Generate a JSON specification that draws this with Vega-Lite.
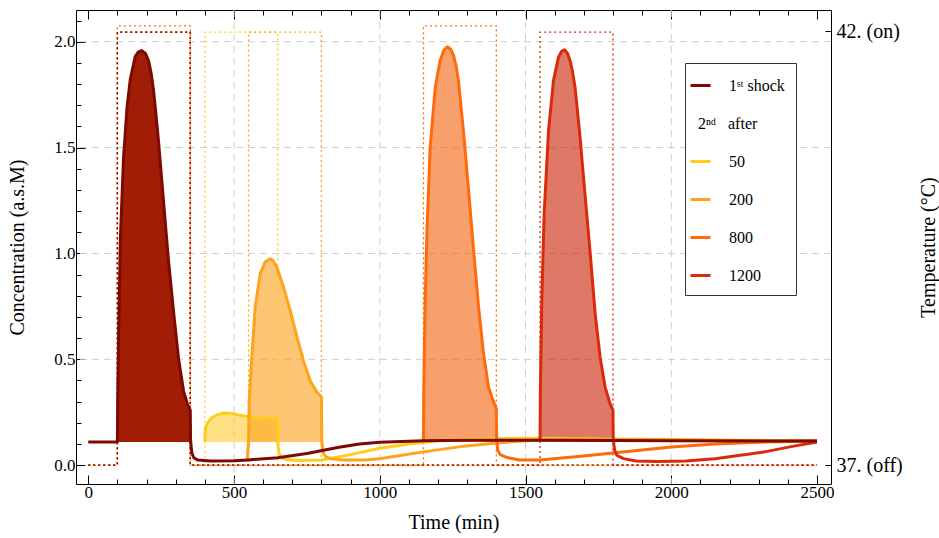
{
  "$schema": "https://vega.github.io/schema/vega-lite/v6.json",
  "width": 755,
  "height": 474,
  "autosize": {"type": "none"},
  "padding": {"left": 76, "top": 10, "right": 108, "bottom": 54},
  "background": "#ffffff",
  "config": {
    "font": "Liberation Serif",
    "view": {"stroke": "#000000", "strokeWidth": 1},
    "axis": {
      "labelFont": "Liberation Serif",
      "titleFont": "Liberation Serif",
      "labelColor": "#000000",
      "titleColor": "#000000",
      "tickColor": "#000000",
      "titleFontWeight": "normal",
      "domain": false,
      "grid": false
    }
  },
  "datasets": {
    "curves": [
      {"s": "1st shock", "t": 0, "c": 0.11, "f": 0},
      {"s": "1st shock", "t": 100, "c": 0.11, "f": 1},
      {"s": "1st shock", "t": 101, "c": 0.3, "f": 1},
      {"s": "1st shock", "t": 104, "c": 0.6, "f": 1},
      {"s": "1st shock", "t": 110, "c": 1.06, "f": 1},
      {"s": "1st shock", "t": 121, "c": 1.45, "f": 1},
      {"s": "1st shock", "t": 133, "c": 1.69, "f": 1},
      {"s": "1st shock", "t": 144, "c": 1.82, "f": 1},
      {"s": "1st shock", "t": 161, "c": 1.93, "f": 1},
      {"s": "1st shock", "t": 172, "c": 1.952, "f": 1},
      {"s": "1st shock", "t": 184, "c": 1.958, "f": 1},
      {"s": "1st shock", "t": 196, "c": 1.945, "f": 1},
      {"s": "1st shock", "t": 207, "c": 1.91, "f": 1},
      {"s": "1st shock", "t": 216, "c": 1.85, "f": 1},
      {"s": "1st shock", "t": 224, "c": 1.77, "f": 1},
      {"s": "1st shock", "t": 232, "c": 1.66, "f": 1},
      {"s": "1st shock", "t": 241, "c": 1.53, "f": 1},
      {"s": "1st shock", "t": 258, "c": 1.25, "f": 1},
      {"s": "1st shock", "t": 275, "c": 0.97, "f": 1},
      {"s": "1st shock", "t": 293, "c": 0.72, "f": 1},
      {"s": "1st shock", "t": 310, "c": 0.5, "f": 1},
      {"s": "1st shock", "t": 327, "c": 0.35, "f": 1},
      {"s": "1st shock", "t": 340, "c": 0.29, "f": 1},
      {"s": "1st shock", "t": 350, "c": 0.26, "f": 1},
      {"s": "1st shock", "t": 351, "c": 0.12, "f": 0},
      {"s": "1st shock", "t": 355, "c": 0.06, "f": 0},
      {"s": "1st shock", "t": 362, "c": 0.035, "f": 0},
      {"s": "1st shock", "t": 375, "c": 0.025, "f": 0},
      {"s": "1st shock", "t": 420, "c": 0.02, "f": 0},
      {"s": "1st shock", "t": 500, "c": 0.021, "f": 0},
      {"s": "1st shock", "t": 550, "c": 0.025, "f": 0},
      {"s": "1st shock", "t": 650, "c": 0.035, "f": 0},
      {"s": "1st shock", "t": 750, "c": 0.055, "f": 0},
      {"s": "1st shock", "t": 860, "c": 0.085, "f": 0},
      {"s": "1st shock", "t": 930, "c": 0.1, "f": 0},
      {"s": "1st shock", "t": 1000, "c": 0.108, "f": 0},
      {"s": "1st shock", "t": 1150, "c": 0.115, "f": 0},
      {"s": "1st shock", "t": 1300, "c": 0.118, "f": 0},
      {"s": "1st shock", "t": 1600, "c": 0.118, "f": 0},
      {"s": "1st shock", "t": 2000, "c": 0.116, "f": 0},
      {"s": "1st shock", "t": 2500, "c": 0.114, "f": 0},

      {"s": "50", "t": 400, "c": 0.11, "f": 1},
      {"s": "50", "t": 401, "c": 0.165, "f": 1},
      {"s": "50", "t": 405, "c": 0.185, "f": 1},
      {"s": "50", "t": 412, "c": 0.205, "f": 1},
      {"s": "50", "t": 425, "c": 0.225, "f": 1},
      {"s": "50", "t": 441, "c": 0.237, "f": 1},
      {"s": "50", "t": 460, "c": 0.245, "f": 1},
      {"s": "50", "t": 476, "c": 0.247, "f": 1},
      {"s": "50", "t": 495, "c": 0.243, "f": 1},
      {"s": "50", "t": 515, "c": 0.237, "f": 1},
      {"s": "50", "t": 550, "c": 0.229, "f": 1},
      {"s": "50", "t": 600, "c": 0.222, "f": 1},
      {"s": "50", "t": 650, "c": 0.22, "f": 1},
      {"s": "50", "t": 651, "c": 0.09, "f": 0},
      {"s": "50", "t": 655, "c": 0.055, "f": 0},
      {"s": "50", "t": 665, "c": 0.035, "f": 0},
      {"s": "50", "t": 680, "c": 0.027, "f": 0},
      {"s": "50", "t": 720, "c": 0.022, "f": 0},
      {"s": "50", "t": 800, "c": 0.025, "f": 0},
      {"s": "50", "t": 900, "c": 0.05, "f": 0},
      {"s": "50", "t": 1000, "c": 0.08, "f": 0},
      {"s": "50", "t": 1100, "c": 0.1, "f": 0},
      {"s": "50", "t": 1200, "c": 0.115, "f": 0},
      {"s": "50", "t": 1300, "c": 0.123, "f": 0},
      {"s": "50", "t": 1500, "c": 0.127, "f": 0},
      {"s": "50", "t": 1700, "c": 0.125, "f": 0},
      {"s": "50", "t": 1900, "c": 0.12, "f": 0},
      {"s": "50", "t": 2200, "c": 0.116, "f": 0},
      {"s": "50", "t": 2500, "c": 0.114, "f": 0},

      {"s": "200", "t": 545, "c": 0.022, "f": 0},
      {"s": "200", "t": 550, "c": 0.11, "f": 1},
      {"s": "200", "t": 552, "c": 0.3, "f": 1},
      {"s": "200", "t": 561, "c": 0.51, "f": 1},
      {"s": "200", "t": 573, "c": 0.75, "f": 1},
      {"s": "200", "t": 590, "c": 0.905, "f": 1},
      {"s": "200", "t": 607, "c": 0.96, "f": 1},
      {"s": "200", "t": 624, "c": 0.975, "f": 1},
      {"s": "200", "t": 635, "c": 0.965, "f": 1},
      {"s": "200", "t": 647, "c": 0.935, "f": 1},
      {"s": "200", "t": 670, "c": 0.84, "f": 1},
      {"s": "200", "t": 693, "c": 0.73, "f": 1},
      {"s": "200", "t": 716, "c": 0.605, "f": 1},
      {"s": "200", "t": 738, "c": 0.495, "f": 1},
      {"s": "200", "t": 761, "c": 0.4, "f": 1},
      {"s": "200", "t": 784, "c": 0.346, "f": 1},
      {"s": "200", "t": 800, "c": 0.322, "f": 1},
      {"s": "200", "t": 801, "c": 0.12, "f": 0},
      {"s": "200", "t": 805, "c": 0.06, "f": 0},
      {"s": "200", "t": 815, "c": 0.04, "f": 0},
      {"s": "200", "t": 830, "c": 0.031, "f": 0},
      {"s": "200", "t": 870, "c": 0.025, "f": 0},
      {"s": "200", "t": 950, "c": 0.025, "f": 0},
      {"s": "200", "t": 1000, "c": 0.03, "f": 0},
      {"s": "200", "t": 1150, "c": 0.063, "f": 0},
      {"s": "200", "t": 1290, "c": 0.09, "f": 0},
      {"s": "200", "t": 1400, "c": 0.105, "f": 0},
      {"s": "200", "t": 1500, "c": 0.115, "f": 0},
      {"s": "200", "t": 1650, "c": 0.122, "f": 0},
      {"s": "200", "t": 1900, "c": 0.123, "f": 0},
      {"s": "200", "t": 2200, "c": 0.118, "f": 0},
      {"s": "200", "t": 2500, "c": 0.115, "f": 0},

      {"s": "800", "t": 1150, "c": 0.115, "f": 1},
      {"s": "800", "t": 1151, "c": 0.35, "f": 1},
      {"s": "800", "t": 1156, "c": 0.79, "f": 1},
      {"s": "800", "t": 1162, "c": 1.11, "f": 1},
      {"s": "800", "t": 1173, "c": 1.5, "f": 1},
      {"s": "800", "t": 1190, "c": 1.78, "f": 1},
      {"s": "800", "t": 1207, "c": 1.91, "f": 1},
      {"s": "800", "t": 1220, "c": 1.96, "f": 1},
      {"s": "800", "t": 1232, "c": 1.976, "f": 1},
      {"s": "800", "t": 1243, "c": 1.965, "f": 1},
      {"s": "800", "t": 1253, "c": 1.935, "f": 1},
      {"s": "800", "t": 1262, "c": 1.885, "f": 1},
      {"s": "800", "t": 1270, "c": 1.816, "f": 1},
      {"s": "800", "t": 1287, "c": 1.58, "f": 1},
      {"s": "800", "t": 1304, "c": 1.31, "f": 1},
      {"s": "800", "t": 1321, "c": 1.03, "f": 1},
      {"s": "800", "t": 1339, "c": 0.747, "f": 1},
      {"s": "800", "t": 1356, "c": 0.527, "f": 1},
      {"s": "800", "t": 1373, "c": 0.369, "f": 1},
      {"s": "800", "t": 1390, "c": 0.3, "f": 1},
      {"s": "800", "t": 1400, "c": 0.267, "f": 1},
      {"s": "800", "t": 1401, "c": 0.12, "f": 0},
      {"s": "800", "t": 1405, "c": 0.07, "f": 0},
      {"s": "800", "t": 1413, "c": 0.05, "f": 0},
      {"s": "800", "t": 1440, "c": 0.035, "f": 0},
      {"s": "800", "t": 1480, "c": 0.025, "f": 0},
      {"s": "800", "t": 1550, "c": 0.025, "f": 0},
      {"s": "800", "t": 1690, "c": 0.042, "f": 0},
      {"s": "800", "t": 1800, "c": 0.058, "f": 0},
      {"s": "800", "t": 2000, "c": 0.086, "f": 0},
      {"s": "800", "t": 2150, "c": 0.1, "f": 0},
      {"s": "800", "t": 2320, "c": 0.11, "f": 0},
      {"s": "800", "t": 2500, "c": 0.114, "f": 0},

      {"s": "1200", "t": 1550, "c": 0.115, "f": 1},
      {"s": "1200", "t": 1551, "c": 0.35, "f": 1},
      {"s": "1200", "t": 1556, "c": 0.79, "f": 1},
      {"s": "1200", "t": 1564, "c": 1.19, "f": 1},
      {"s": "1200", "t": 1579, "c": 1.58, "f": 1},
      {"s": "1200", "t": 1596, "c": 1.816, "f": 1},
      {"s": "1200", "t": 1613, "c": 1.926, "f": 1},
      {"s": "1200", "t": 1624, "c": 1.955, "f": 1},
      {"s": "1200", "t": 1634, "c": 1.962, "f": 1},
      {"s": "1200", "t": 1644, "c": 1.945, "f": 1},
      {"s": "1200", "t": 1653, "c": 1.91, "f": 1},
      {"s": "1200", "t": 1661, "c": 1.86, "f": 1},
      {"s": "1200", "t": 1670, "c": 1.785, "f": 1},
      {"s": "1200", "t": 1687, "c": 1.55, "f": 1},
      {"s": "1200", "t": 1704, "c": 1.28, "f": 1},
      {"s": "1200", "t": 1722, "c": 1.0, "f": 1},
      {"s": "1200", "t": 1739, "c": 0.715, "f": 1},
      {"s": "1200", "t": 1756, "c": 0.51, "f": 1},
      {"s": "1200", "t": 1773, "c": 0.369, "f": 1},
      {"s": "1200", "t": 1790, "c": 0.29, "f": 1},
      {"s": "1200", "t": 1800, "c": 0.26, "f": 1},
      {"s": "1200", "t": 1801, "c": 0.12, "f": 0},
      {"s": "1200", "t": 1806, "c": 0.07, "f": 0},
      {"s": "1200", "t": 1813, "c": 0.047, "f": 0},
      {"s": "1200", "t": 1836, "c": 0.031, "f": 0},
      {"s": "1200", "t": 1880, "c": 0.02, "f": 0},
      {"s": "1200", "t": 1950, "c": 0.017, "f": 0},
      {"s": "1200", "t": 2050, "c": 0.02, "f": 0},
      {"s": "1200", "t": 2150, "c": 0.03, "f": 0},
      {"s": "1200", "t": 2320, "c": 0.063, "f": 0},
      {"s": "1200", "t": 2420, "c": 0.09, "f": 0},
      {"s": "1200", "t": 2500, "c": 0.11, "f": 0}
    ],
    "temp": [
      {"s": "800", "i": 0, "t": 0, "v": 0},
      {"s": "800", "i": 1, "t": 100, "v": 0},
      {"s": "800", "i": 2, "t": 100, "v": 2.075},
      {"s": "800", "i": 3, "t": 350, "v": 2.075},
      {"s": "800", "i": 4, "t": 350, "v": 0},
      {"s": "800", "i": 5, "t": 1150, "v": 0},
      {"s": "800", "i": 6, "t": 1150, "v": 2.075},
      {"s": "800", "i": 7, "t": 1400, "v": 2.075},
      {"s": "800", "i": 8, "t": 1400, "v": 0},
      {"s": "800", "i": 9, "t": 2500, "v": 0},
      {"s": "50", "i": 0, "t": 0, "v": 0},
      {"s": "50", "i": 1, "t": 100, "v": 0},
      {"s": "50", "i": 2, "t": 100, "v": 2.045},
      {"s": "50", "i": 3, "t": 350, "v": 2.045},
      {"s": "50", "i": 4, "t": 350, "v": 0},
      {"s": "50", "i": 5, "t": 400, "v": 0},
      {"s": "50", "i": 6, "t": 400, "v": 2.045},
      {"s": "50", "i": 7, "t": 650, "v": 2.045},
      {"s": "50", "i": 8, "t": 650, "v": 0},
      {"s": "50", "i": 9, "t": 2500, "v": 0},
      {"s": "200", "i": 0, "t": 0, "v": 0},
      {"s": "200", "i": 1, "t": 100, "v": 0},
      {"s": "200", "i": 2, "t": 100, "v": 2.045},
      {"s": "200", "i": 3, "t": 350, "v": 2.045},
      {"s": "200", "i": 4, "t": 350, "v": 0},
      {"s": "200", "i": 5, "t": 550, "v": 0},
      {"s": "200", "i": 6, "t": 550, "v": 2.045},
      {"s": "200", "i": 7, "t": 800, "v": 2.045},
      {"s": "200", "i": 8, "t": 800, "v": 0},
      {"s": "200", "i": 9, "t": 2500, "v": 0},
      {"s": "1200", "i": 0, "t": 0, "v": 0},
      {"s": "1200", "i": 1, "t": 100, "v": 0},
      {"s": "1200", "i": 2, "t": 100, "v": 2.045},
      {"s": "1200", "i": 3, "t": 350, "v": 2.045},
      {"s": "1200", "i": 4, "t": 350, "v": 0},
      {"s": "1200", "i": 5, "t": 1550, "v": 0},
      {"s": "1200", "i": 6, "t": 1550, "v": 2.045},
      {"s": "1200", "i": 7, "t": 1800, "v": 2.045},
      {"s": "1200", "i": 8, "t": 1800, "v": 0},
      {"s": "1200", "i": 9, "t": 2500, "v": 0},
      {"s": "1st shock", "i": 0, "t": 0, "v": 0},
      {"s": "1st shock", "i": 1, "t": 100, "v": 0},
      {"s": "1st shock", "i": 2, "t": 100, "v": 2.045},
      {"s": "1st shock", "i": 3, "t": 350, "v": 2.045},
      {"s": "1st shock", "i": 4, "t": 350, "v": 0},
      {"s": "1st shock", "i": 5, "t": 2500, "v": 0}
    ]
  },
  "layer": [
    {
      "data": {"values": [{"t": 500}, {"t": 1000}, {"t": 1500}, {"t": 2000}]},
      "mark": {"type": "rule", "stroke": "#cfcfcf", "strokeWidth": 1, "strokeDash": [7, 5]},
      "encoding": {
        "x": {
          "field": "t", "type": "quantitative",
          "scale": {"domain": [-42, 2548], "nice": false, "zero": false},
          "axis": {
            "orient": "bottom", "values": [0, 500, 1000, 1500, 2000, 2500], "format": "d",
            "tickSize": -9, "labelPadding": 9, "labelFontSize": 17, "labelFlush": false,
            "title": "Time (min)", "titleFontSize": 20, "titlePadding": 12
          }
        }
      }
    },
    {
      "data": {"values": [{"c": 0.5}, {"c": 1.0}, {"c": 1.5}, {"c": 2.0}]},
      "mark": {"type": "rule", "stroke": "#cfcfcf", "strokeWidth": 1, "strokeDash": [7, 5]},
      "encoding": {
        "y": {
          "field": "c", "type": "quantitative",
          "scale": {"domain": [-0.0888, 2.1497], "nice": false, "zero": false},
          "axis": {
            "orient": "left", "values": [0, 0.5, 1, 1.5, 2], "format": ".1f",
            "tickSize": -9, "labelPadding": 10, "labelFontSize": 17,
            "title": "Concentration (a.s.M)", "titleFontSize": 20, "titlePadding": 26
          }
        }
      }
    },
    {
      "data": {"name": "curves"},
      "transform": [{"filter": "datum.f == 1"}],
      "mark": {"type": "area", "strokeWidth": 0},
      "encoding": {
        "x": {
          "field": "t", "type": "quantitative",
          "scale": {"domain": [-42, 2548], "nice": false, "zero": false},
          "axis": {
            "orient": "bottom",
            "values": [100, 200, 300, 400, 600, 700, 800, 900, 1100, 1200, 1300, 1400, 1600, 1700, 1800, 1900, 2100, 2200, 2300, 2400],
            "tickSize": -5, "labels": false, "title": null
          }
        },
        "y": {
          "field": "c", "type": "quantitative",
          "scale": {"domain": [-0.0888, 2.1497], "nice": false, "zero": false},
          "axis": {
            "orient": "left",
            "values": [0.1, 0.2, 0.3, 0.4, 0.6, 0.7, 0.8, 0.9, 1.1, 1.2, 1.3, 1.4, 1.6, 1.7, 1.8, 1.9, 2.1],
            "tickSize": -5, "labels": false, "title": null
          }
        },
        "y2": {"datum": 0.11},
        "fill": {
          "field": "s", "type": "nominal",
          "scale": {"domain": ["1st shock", "50", "200", "800", "1200"], "range": ["#a21d05", "#fdcd37", "#fca017", "#f36108", "#cb1e03"]},
          "legend": null
        },
        "fillOpacity": {"condition": {"test": "datum.s == '1st shock'", "value": 1}, "value": 0.6}
      }
    },
    {
      "data": {"name": "temp"},
      "mark": {"type": "line", "strokeWidth": 1.3, "strokeDash": [2, 3]},
      "encoding": {
        "x": {
          "field": "t", "type": "quantitative",
          "scale": {"domain": [-42, 2548], "nice": false, "zero": false},
          "axis": {"orient": "top", "values": [0, 500, 1000, 1500, 2000, 2500], "tickSize": -9, "labels": false, "title": null}
        },
        "y": {
          "field": "v", "type": "quantitative",
          "scale": {"domain": [-0.0888, 2.1497], "nice": false, "zero": false},
          "axis": {
            "orient": "right", "values": [0, 2.05], "tickSize": -6, "labelPadding": 11, "labelFontSize": 20,
            "labelExpr": "datum.value < 1 ? '37. (off)' : '42. (on)'",
            "title": "Temperature (°C)", "titleFontSize": 20, "titleAngle": 270, "titlePadding": 36
          }
        },
        "color": {
          "field": "s", "type": "nominal",
          "scale": {"domain": ["1st shock", "50", "200", "800", "1200"], "range": ["#7d0a02", "#ffcc1a", "#ffa31a", "#ff6a0a", "#d92b0a"]},
          "legend": null
        },
        "order": {"field": "i", "type": "quantitative"}
      }
    },
    {
      "data": {"name": "curves"},
      "transform": [{"filter": "datum.s != '1st shock'"}],
      "mark": {"type": "line", "strokeWidth": 3, "strokeJoin": "round"},
      "encoding": {
        "x": {
          "field": "t", "type": "quantitative",
          "scale": {"domain": [-42, 2548], "nice": false, "zero": false},
          "axis": {
            "orient": "top",
            "values": [100, 200, 300, 400, 600, 700, 800, 900, 1100, 1200, 1300, 1400, 1600, 1700, 1800, 1900, 2100, 2200, 2300, 2400],
            "tickSize": -5, "labels": false, "title": null
          }
        },
        "y": {
          "field": "c", "type": "quantitative",
          "scale": {"domain": [-0.0888, 2.1497], "nice": false, "zero": false},
          "axis": null
        },
        "stroke": {
          "field": "s", "type": "nominal",
          "scale": {
            "domain": ["1st shock", "2nd after", "50", "200", "800", "1200"],
            "range": ["#7d0a02", "rgba(0,0,0,0)", "#ffcc1a", "#ffa31a", "#ff6a0a", "#d92b0a"]
          },
          "legend": {
            "orient": "none", "legendX": 609, "legendY": 53, "title": null,
            "symbolType": "stroke", "symbolSize": 400, "symbolStrokeWidth": 3, "symbolOffset": -7,
            "labelFont": "Liberation Serif", "labelFontSize": 16, "labelColor": "#000000",
            "strokeColor": "#333333", "fillColor": "#ffffff", "padding": 11,
            "rowPadding": 18, "labelOffset": 17,
            "labelExpr": "datum.value == '1st shock' ? '1ˢᵗ shock' : (datum.value == '2nd after' ? '2ⁿᵈ\u00a0\u00a0\u00a0after' : datum.label)",
            "encode": {"labels": {"update": {"dx": {"signal": "datum.value == '2nd after' ? -31 : 0"}}}}
          }
        }
      }
    },
    {
      "data": {"name": "curves"},
      "transform": [{"filter": "datum.s == '1st shock'"}],
      "mark": {"type": "line", "strokeWidth": 3, "strokeJoin": "round"},
      "encoding": {
        "x": {
          "field": "t", "type": "quantitative",
          "scale": {"domain": [-42, 2548], "nice": false, "zero": false},
          "axis": null
        },
        "y": {
          "field": "c", "type": "quantitative",
          "scale": {"domain": [-0.0888, 2.1497], "nice": false, "zero": false},
          "axis": null
        },
        "stroke": {"field": "s", "type": "nominal"}
      }
    }
  ],
  "resolve": {"axis": {"x": "independent", "y": "independent"}}
}
